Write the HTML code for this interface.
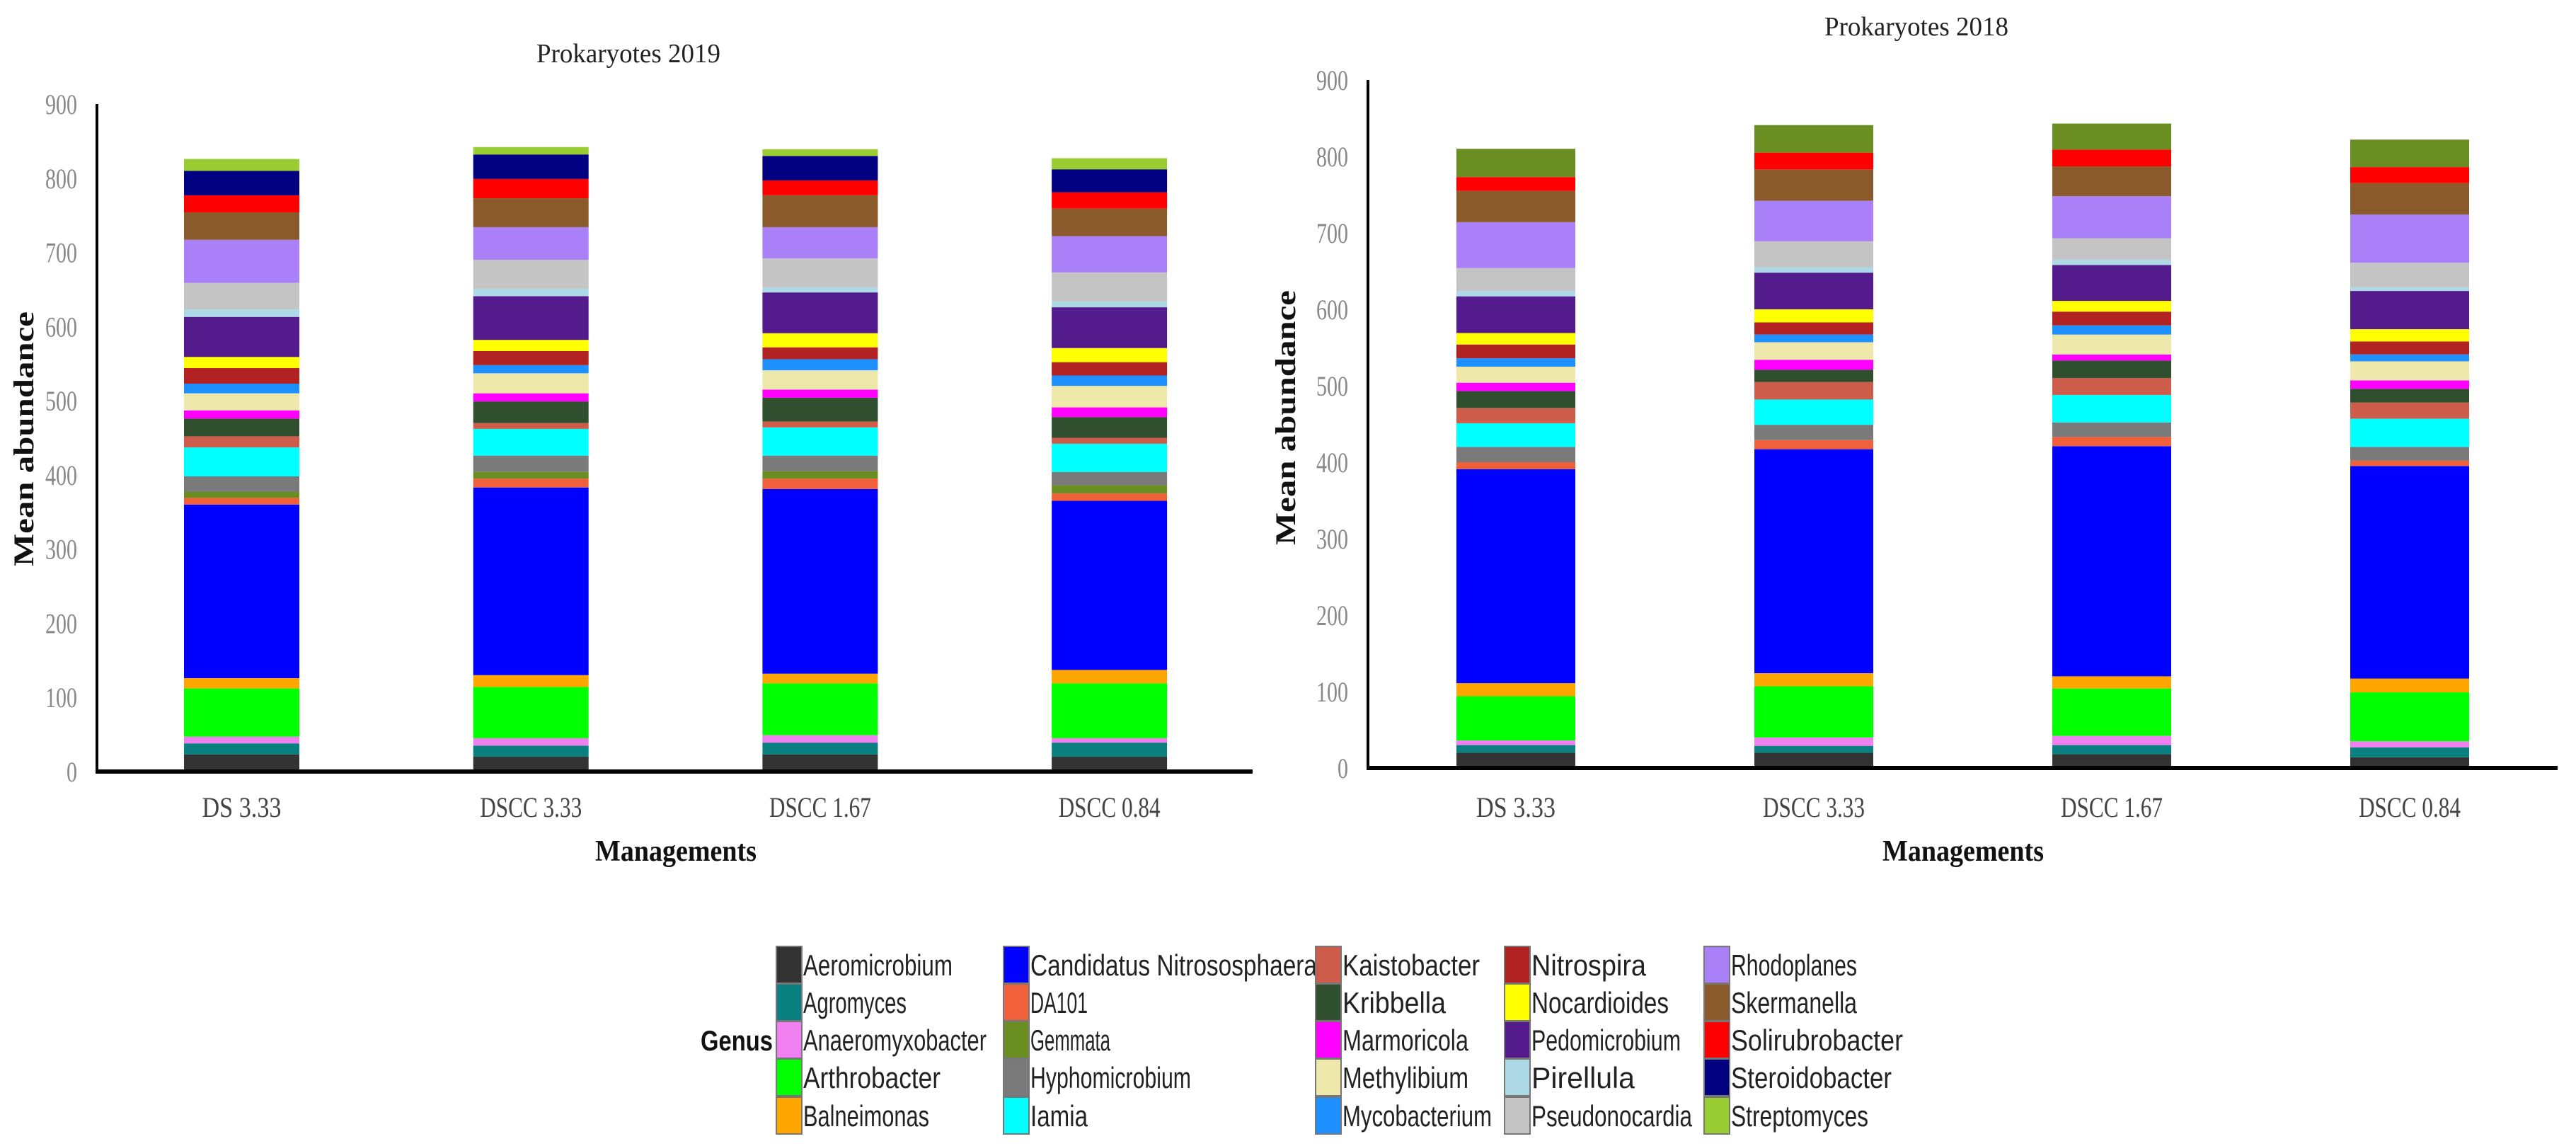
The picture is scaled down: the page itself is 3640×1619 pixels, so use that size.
<!DOCTYPE html>
<html><head><meta charset="utf-8"><style>
html,body{margin:0;padding:0;background:#fff;}
svg{display:block;}
</style></head><body>
<svg id="root" width="3640" height="1619" viewBox="0 0 3640 1619" xmlns="http://www.w3.org/2000/svg">
<g id="c19"></g>
<g id="c18"></g>
<g id="legend"></g>
</svg>
<script>
const NS="http://www.w3.org/2000/svg";
const categories=["DS 3.33","DSCC 3.33","DSCC 1.67","DSCC 0.84"];
const yTicks=[0,100,200,300,400,500,600,700,800,900];
const genera=["Aeromicrobium","Agromyces","Anaeromyxobacter","Arthrobacter","Balneimonas","Candidatus Nitrososphaera","DA101","Gemmata","Hyphomicrobium","Iamia","Kaistobacter","Kribbella","Marmoricola","Methylibium","Mycobacterium","Nitrospira","Nocardioides","Pedomicrobium","Pirellula","Pseudonocardia","Rhodoplanes","Skermanella","Solirubrobacter","Steroidobacter","Streptomyces"];
const genusColors=["#333333","#0a8080","#f07ff0","#00ff00","#ffa500","#0000ff","#f0603a","#6b8e23","#7a7a7a","#00ffff","#cd5c4a","#2f4f2f","#ff00ff","#eee8aa","#1e90ff","#b22222","#ffff00","#541b8c","#add8e6","#c4c4c4","#a980f8","#8b5a2b","#ff0000","#000080","#9acd32"];
// 2019 cumulative tops per bar (stack order = genera order)
const cum2019_DS333=[23,38,47,112,126,360,369,377,398,437,452,476,487,510,523,544,559,613,623,659,717,754,777,810,826];
const cum2019_DSCC333=[20,35,45,114,130,383,395,404,426,462,470,499,510,537,548,567,582,641,651,690,734,773,799,832,842];
const cum2019_DSCC167=[23,39,49,119,132,381,395,405,426,464,472,504,515,541,556,572,591,646,653,692,734,777,797,830,839];
const cum2019_DSCC084=[20,39,45,119,137,365,375,386,404,442,450,478,491,520,534,552,571,626,634,673,722,759,781,812,827];
// 2018 stack order (Gemmata on top)
const order2018=[0,1,2,3,4,5,6,8,9,10,11,12,13,14,15,16,17,18,19,20,21,22,7];
const cum2018_DS333=[20,30,36,94,111,391,400,420,451,471,493,504,525,536,554,569,617,624,654,714,755,773,810];
const cum2018_DSCC333=[20,29,40,107,124,417,429,449,482,505,521,534,557,567,583,600,648,655,689,742,783,805,841];
const cum2018_DSCC167=[18,30,42,104,120,421,433,452,488,510,533,541,567,579,597,611,658,665,693,748,787,809,843];
const cum2018_DSCC084=[14,27,35,99,117,395,402,420,457,478,496,507,532,541,558,574,624,629,661,724,765,786,822];

function el(tag,attrs,parent,text){const e=document.createElementNS(NS,tag);for(const k in attrs)e.setAttribute(k,attrs[k]);if(text!==undefined)e.textContent=text;parent.appendChild(e);return e;}

function drawChart(g,cfg){
  const y=v=>cfg.y0-(v/900)*(cfg.y0-cfg.y900);
  const x=i=>cfg.bar0+i*cfg.step;
  const t=el('text',{x:cfg.titleX,y:cfg.titleY,'font-family':'Liberation Serif, serif','font-size':38,fill:'#222','text-anchor':'middle',textLength:260,lengthAdjust:'spacingAndGlyphs'},g,cfg.title);
  
  
  yTicks.forEach(v=>{
    const tl=el('text',{x:cfg.axisX-28,y:y(v)+14,'font-family':'Liberation Serif, serif','font-size':40,fill:'#888','text-anchor':'end',textLength:String(v).length*15,lengthAdjust:'spacingAndGlyphs'},g,String(v));
    
    
  });
  cfg.cums.forEach((cum,i)=>{
    let prev=0;
    cum.forEach((top,j)=>{
      const gi=cfg.order[j];
      const r=el('rect',{x:x(i),y:y(top),width:cfg.bw,height:Math.max(0,y(prev)-y(top)),fill:genusColors[gi]},g);
      
      
      prev=top;
    });
    const cl=el('text',{x:x(i)+cfg.bw/2,y:cfg.catY,'font-family':'Liberation Serif, serif','font-size':40,fill:'#444','text-anchor':'middle',textLength:categories[i].length*16,lengthAdjust:'spacingAndGlyphs'},g,categories[i]);
    
    
  });
  const ax=el('line',{x1:cfg.axisX,y1:y(900),x2:cfg.axisX,y2:cfg.y0+2,stroke:'#000','stroke-width':4},g);
  
  
  const bx=el('line',{x1:cfg.axisX-2,y1:cfg.y0,x2:cfg.axisEnd,y2:cfg.y0,stroke:'#000','stroke-width':6},g);
  
  
  const yt=el('text',{x:0,y:0,'font-family':'Liberation Serif, serif','font-size':40,'font-weight':'bold',fill:'#111','text-anchor':'middle',transform:`translate(${cfg.yTitleX},${cfg.yTitleY}) rotate(-90)`,textLength:360,lengthAdjust:'spacingAndGlyphs'},g,'Mean abundance');
  
  
  const xt=el('text',{x:cfg.xTitleX,y:1216,'font-family':'Liberation Serif, serif','font-size':42,'font-weight':'bold',fill:'#111','text-anchor':'middle',textLength:228,lengthAdjust:'spacingAndGlyphs'},g,'Managements');
  
  
}
drawChart(document.getElementById('c19'),{title:'Prokaryotes 2019',titleX:888,titleY:88,y0:1090,y900:147,axisX:137,axisEnd:1770,bar0:260,step:408.7,bw:163,catY:1154,yTitleX:47,yTitleY:620,xTitleX:955,order:genera.map((_,i)=>i),cums:[cum2019_DS333,cum2019_DSCC333,cum2019_DSCC167,cum2019_DSCC084]});
drawChart(document.getElementById('c18'),{title:'Prokaryotes 2018',titleX:2708,titleY:50,y0:1085,y900:113,axisX:1933,axisEnd:3614,bar0:2058,step:421,bw:168,catY:1154,yTitleX:1830,yTitleY:590,xTitleX:2774,order:order2018,cums:[cum2018_DS333,cum2018_DSCC333,cum2018_DSCC167,cum2018_DSCC084]});

// legend
const lg=document.getElementById('legend');
const colX=[1097,1418,1859,2126,2408];
const rowY=[1363,1416,1469,1522,1576];
const gt=el('text',{x:990,y:1484,'font-family':'Liberation Sans, sans-serif','font-size':40,'font-weight':'bold',fill:'#111',textLength:102,lengthAdjust:'spacingAndGlyphs'},lg,'Genus');


genera.forEach((name,i)=>{
  const c=Math.floor(i/5), r=i%5;
  const item=el('g',{},lg);
  
  
  el('rect',{x:colX[c],y:rowY[r]-26,width:36,height:52,fill:genusColors[i],stroke:'#777','stroke-width':2},item);
  el('text',{x:colX[c]+38,y:rowY[r]+15,'font-family':'Liberation Sans, sans-serif','font-size':42,fill:'#222',textLength:Math.round(name.length*16.2),lengthAdjust:'spacingAndGlyphs'},item,name);
});
</script>
</body></html>
